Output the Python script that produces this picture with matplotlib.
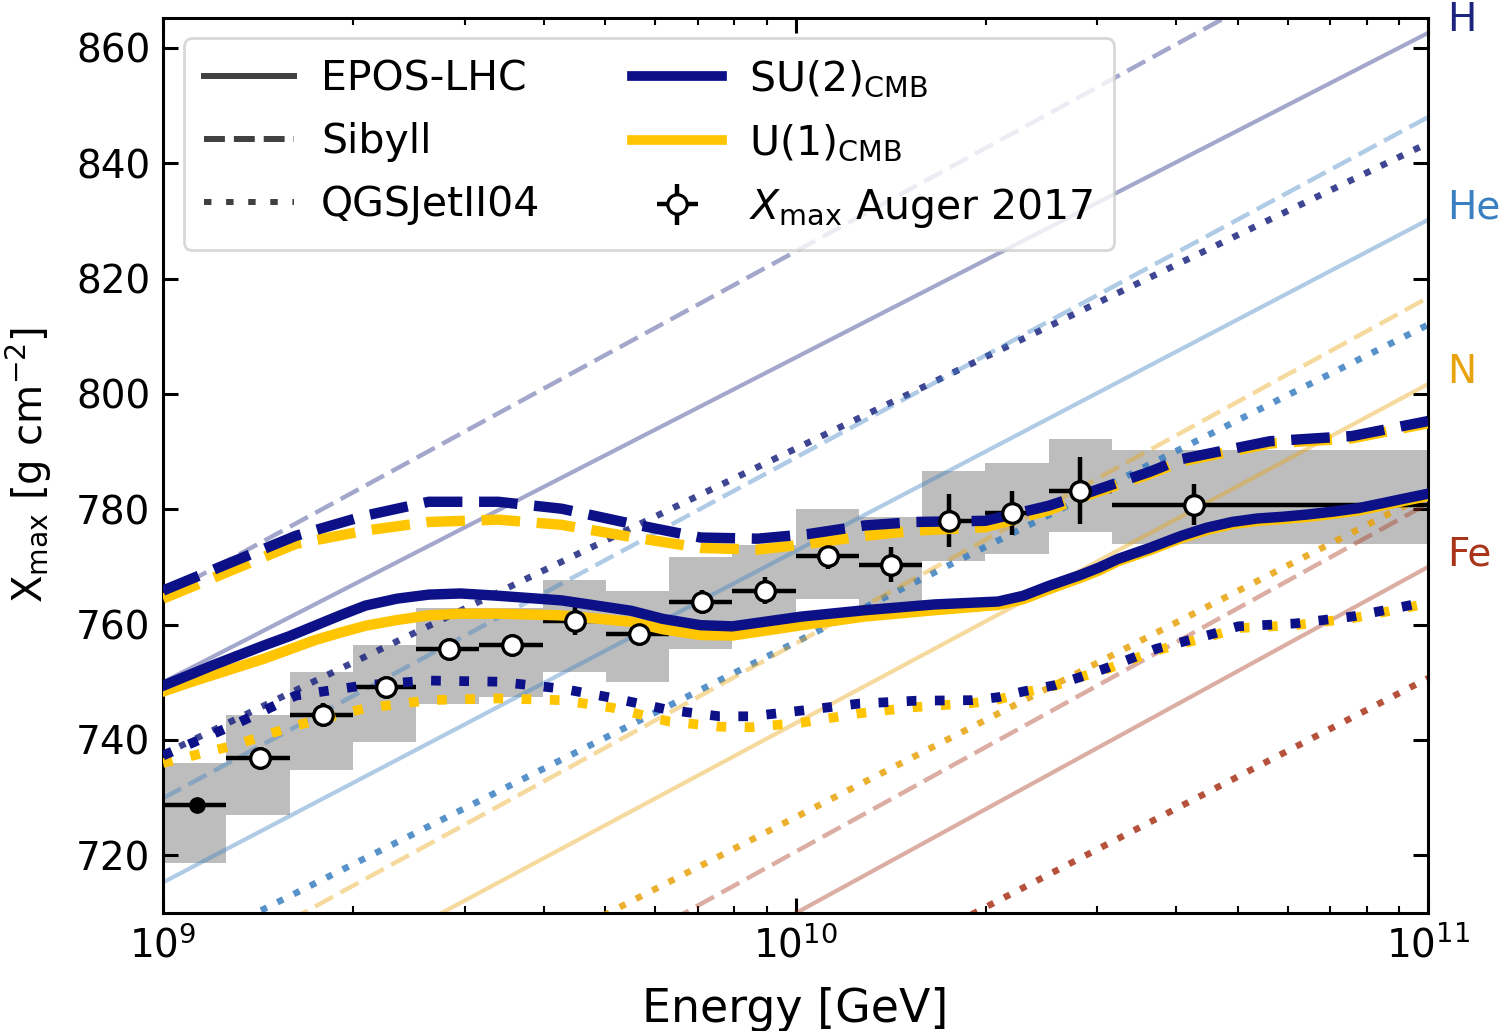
import numpy as np
import matplotlib.pyplot as plt
from matplotlib.lines import Line2D
from matplotlib.transforms import blended_transform_factory

plt.rcParams['mathtext.fontset'] = 'dejavusans'
plt.rcParams['font.family'] = 'DejaVu Sans'

# ---- composition lines (EPOS / Sibyll / QGSJet), Xmax at 1e9 and 1e11 GeV
comp_names = ['H', 'He', 'N', 'Fe']
comp_colors = ['#1c2480', '#3a7fc1', '#e8a20c', '#a93418']
comp_lg = [9.0, 11.0]
comp_epos = [[750.0, 862.6], [715.3, 830.2], [684.1, 801.7], [649.9, 770.0]]
comp_sibyll = [[765.0, 884.4], [729.9, 848.0], [696.7, 816.7], [660.2, 781.0]]
comp_qgs = [[737.5, 843.5], [701.9, 812.0], [670.5, 782.7], [637.2, 750.7]]

# ---- model predictions
lg_epos = [9.00, 9.04, 9.08, 9.12, 9.16, 9.20, 9.24, 9.28, 9.32, 9.37,
           9.42, 9.47, 9.53, 9.63, 9.74, 9.79, 9.85, 9.90, 10.01, 10.11,
           10.22, 10.32, 10.36, 10.40, 10.45, 10.48, 10.51, 10.56, 10.61, 10.65,
           10.69, 10.73, 10.77, 10.81, 10.85, 10.89, 10.93, 10.96, 11.00]
su2_epos = [749.4, 751.2, 753.0, 754.7, 756.4, 758.0, 759.8, 761.6, 763.3, 764.5,
            765.2, 765.4, 765.0, 764.2, 762.4, 761.0, 759.9, 759.7, 761.4, 762.5,
            763.5, 764.0, 765.0, 766.7, 768.6, 769.9, 771.4, 773.3, 775.4, 776.8,
            777.8, 778.4, 778.7, 779.1, 779.6, 780.2, 781.1, 781.8, 782.7]
u1_epos = [748.4, 749.9, 751.3, 752.7, 754.1, 755.7, 757.3, 758.6, 759.8, 760.8,
           761.6, 761.9, 761.9, 761.6, 760.5, 759.2, 758.2, 758.1, 759.9, 761.4,
           762.5, 763.4, 764.4, 766.1, 768.1, 769.4, 771.0, 772.9, 775.0, 776.4,
           777.4, 778.0, 778.3, 778.7, 779.2, 779.8, 780.7, 781.4, 782.3]

lg_sib = [9.00, 9.11, 9.21, 9.32, 9.42, 9.53, 9.63, 9.74, 9.85, 9.94, 10.02,
          10.11, 10.19, 10.30, 10.40, 10.45, 10.56, 10.61, 10.75, 10.88, 11.00]
su2_sib = [765.9, 770.9, 775.4, 778.9, 781.3, 781.3, 780.1, 777.5, 775.1, 774.9, 775.7,
           777.2, 777.8, 778.0, 780.6, 782.4, 786.5, 788.7, 791.8, 792.7, 795.3]
u1_sib = [764.5, 769.5, 774.0, 776.3, 777.8, 778.2, 777.3, 775.2, 773.3, 773.0, 774.0,
          775.4, 776.3, 776.9, 779.8, 782.0, 786.1, 788.3, 791.4, 792.3, 794.9]

lg_qgs = [9.00, 9.11, 9.21, 9.32, 9.42, 9.53, 9.63, 9.71, 9.80, 9.88, 9.93, 10.01, 10.10,
          10.19, 10.28, 10.32, 10.36, 10.41, 10.45, 10.49, 10.57, 10.66, 10.70, 10.79,
          10.88, 10.96, 11.00]
su2_qgs = [737.3, 742.5, 747.7, 749.5, 750.3, 750.1, 748.9, 747.3, 745.2, 744.1, 744.1, 745.1,
           746.3, 746.8, 746.9, 747.4, 748.4, 749.5, 750.9, 752.4, 755.8, 758.4, 759.7, 760.2,
           761.4, 763.1, 764.0]
u1_qgs = [736.0, 739.0, 742.5, 745.5, 746.9, 747.2, 746.9, 745.6, 743.2, 742.3, 742.2, 743.0,
          744.6, 745.7, 746.4, 747.0, 748.2, 749.4, 750.9, 752.2, 755.5, 758.1, 759.4, 759.9,
          761.1, 762.8, 763.7]

# ---- Auger 2017 Xmax
auger_lg = [9.053, 9.153, 9.253, 9.352, 9.452, 9.552, 9.652, 9.752, 9.852, 9.951,
            10.051, 10.151, 10.242, 10.342, 10.450, 10.630]
auger_x = [728.7, 736.9, 744.4, 749.2, 755.7, 756.4, 760.6, 758.3, 764.0, 765.9,
           771.9, 770.4, 778.0, 779.3, 783.2, 780.8]
auger_stat = [1.0, 1.5, 2.0, 1.8, 1.8, 1.8, 2.4, 1.9, 2.0, 2.4, 2.3, 3.0, 4.6, 3.8, 5.8, 3.5]
bin_lo = [9.0, 9.1, 9.2, 9.3, 9.4, 9.5, 9.6, 9.7, 9.8, 9.9, 10.0, 10.1, 10.2, 10.3, 10.4, 10.5]
bin_hi = [9.1, 9.2, 9.3, 9.4, 9.5, 9.6, 9.7, 9.8, 9.9, 10.0, 10.1, 10.2, 10.3, 10.4, 10.5, 11.0]
sys_lo = [718.6, 727.0, 734.8, 739.7, 746.3, 747.5, 751.7, 750.0, 755.8, 760.0,
          764.5, 763.3, 771.1, 772.3, 776.1, 773.9]
sys_hi = [736.0, 744.3, 751.8, 756.5, 762.8, 762.8, 767.8, 765.9, 771.7, 773.8,
          780.0, 778.7, 786.7, 788.0, 792.2, 790.3]

NAVY = '#0c1188'
GOLD = '#ffc500'

fig = plt.figure(figsize=(15.04, 10.31), dpi=100)
ax = fig.add_axes([0.1084, 0.1145, 0.8411, 0.8681])

E = lambda lg: 10.0 ** np.asarray(lg)

# systematic bands
lo = E(bin_lo)
hi = E(bin_hi)
ax.bar(lo, np.array(sys_hi) - np.array(sys_lo), width=hi - lo, bottom=sys_lo,
       align='edge', color='#bdbdbd', linewidth=0, zorder=1)

# pure compositions
for name, col, ep, sb, qg in zip(comp_names, comp_colors, comp_epos, comp_sibyll, comp_qgs):
    ax.plot(E(comp_lg), ep, color=col, alpha=0.4, lw=3.0, zorder=2)
    ax.plot(E(comp_lg), sb, color=col, alpha=0.4, lw=3.2, ls=(0, (4.6, 1.9)), zorder=2)
    ax.plot(E(comp_lg), qg, color=col, alpha=0.85, lw=4.7, ls=(0, (1, 1.8)), zorder=2)

# data error bars
ex = E(auger_lg)
xerr = [ex - lo, hi - ex]
ax.errorbar(ex[:1], auger_x[:1], xerr=[xerr[0][:1], xerr[1][:1]], yerr=auger_stat[:1],
            fmt='none', ecolor='k', elinewidth=3.2, zorder=3)
eb = ax.errorbar(ex[1:], auger_x[1:], xerr=[xerr[0][1:], xerr[1][1:]], yerr=auger_stat[1:],
                 fmt='o', ms=14, mfc='white', mec='k', mew=2.3, ecolor='k', elinewidth=3.2,
                 zorder=3)

# model curves
ax.plot(E(lg_epos), u1_epos, color=GOLD, lw=7.5, zorder=4)
ax.plot(E(lg_epos), su2_epos, color=NAVY, lw=7.5, zorder=4)
ax.plot(E(lg_sib), u1_sib, color=GOLD, lw=7.5, ls=(0, (3.7, 1.6)), zorder=4)
ax.plot(E(lg_sib), su2_sib, color=NAVY, lw=7.5, ls=(0, (3.7, 1.6)), zorder=4)
ax.plot(E(lg_qgs), u1_qgs, color=GOLD, lw=7, ls=(0, (1, 1.9)), zorder=4)
ax.plot(E(lg_qgs), su2_qgs, color=NAVY, lw=7, ls=(0, (1, 1.9)), zorder=4)

# data markers on top
ax.plot(ex[:1], auger_x[:1], 'o', ms=11, color='k', zorder=6)
ax.plot(ex[1:], auger_x[1:], 'o', ms=14, mfc='white', mec='k', mew=2.3, zorder=6)

# element labels on the right
trans = blended_transform_factory(ax.transAxes, ax.transData)
for name, col, ep in zip(comp_names, comp_colors, comp_epos):
    ax.annotate(name, xy=(1.0, ep[1]), xycoords=trans, xytext=(14, 9),
                textcoords='offset points', va='center', ha='left', color=col,
                fontsize=28, annotation_clip=False)

ax.set_xscale('log')
ax.set_xlim(1e9, 1e11)
ax.set_ylim(710, 865.2)
ax.set_yticks(np.arange(720, 861, 20))
ax.tick_params(which='both', direction='in', top=True, right=True, labelsize=28)
ax.tick_params(which='major', length=11, width=2.2, pad=9)
ax.tick_params(which='minor', length=5, width=1.5)
for sp in ax.spines.values():
    sp.set_linewidth(2.2)

ax.set_xlabel('Energy [GeV]', fontsize=33, labelpad=16)
ax.set_ylabel(r'X$_\mathrm{max}$ [g cm$^{-2}$]', fontsize=29, labelpad=16)

handles = [
    Line2D([], [], color='0.25', lw=4.3),
    Line2D([], [], color='0.25', lw=4.3, ls=(0, (3.5, 1.5))),
    Line2D([], [], color='0.25', lw=4.3, ls=(0, (1.25, 2.45))),
    Line2D([], [], color=NAVY, lw=7),
    Line2D([], [], color=GOLD, lw=7),
    eb,
]
labels = ['EPOS-LHC', 'Sibyll', 'QGSJetII04', r'SU(2)$_\mathrm{CMB}$', r'U(1)$_\mathrm{CMB}$',
          r'$X_\mathrm{max}$ Auger 2017']
leg = ax.legend(handles, labels, ncol=2, loc='upper left', fontsize=29.5, labelspacing=0.55,
                handlelength=2.2, handletextpad=0.65, columnspacing=2.25, borderpad=0.5,
                borderaxespad=0.5, edgecolor='#cfcfcf', fancybox=True)
leg.get_frame().set_linewidth(2)

fig.savefig('out.png', dpi=100)
